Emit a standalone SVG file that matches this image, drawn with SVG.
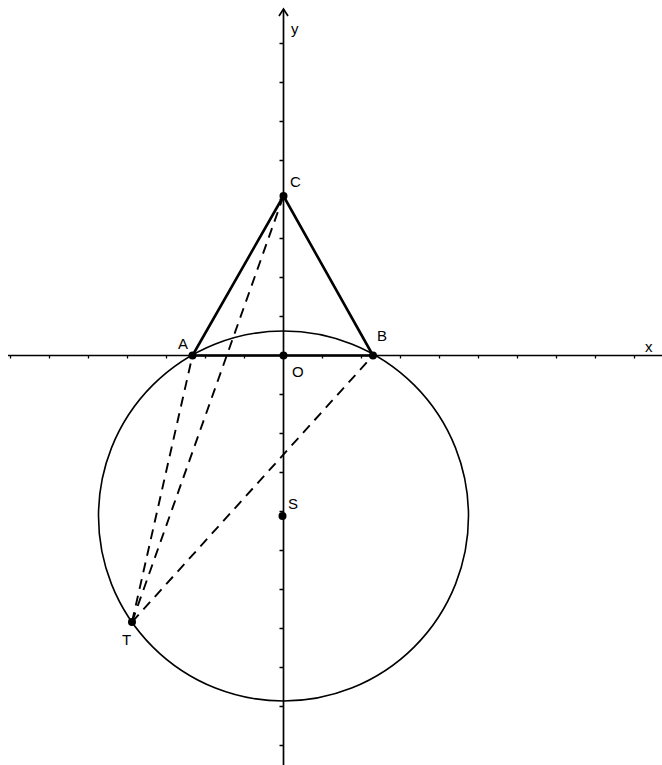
<svg xmlns="http://www.w3.org/2000/svg" width="662" height="765" viewBox="0 0 662 765">
<defs>
<style>
.axis{stroke:#000;stroke-width:1.7;fill:none}
.tick{stroke:#000;stroke-width:1.3}
.solid{stroke:#000;stroke-width:2.6;fill:none;stroke-linecap:round}
.circ{stroke:#000;stroke-width:1.6;fill:none}
.dash{stroke:#000;stroke-width:1.9;fill:none;stroke-dasharray:10 7}
.pt{fill:#000}
text{font-family:"Liberation Sans",Arial,sans-serif;font-size:15px;fill:#000}
</style>
</defs>
<rect width="662" height="765" fill="#fff"/>
<g id="axes">
<line class="axis" x1="8" y1="355.5" x2="662" y2="355.5"/>
<line class="axis" x1="283.5" y1="9" x2="283.5" y2="765"/>
<polyline class="axis" points="279,16 283.5,9 288,16"/>
<g id="xticks">
<path class="tick" d="M10.5,355.5v3M49.5,355.5v3M88.5,355.5v3M127.5,355.5v3M166.5,355.5v3M205.5,355.5v3M244.5,355.5v3M322.5,355.5v3M361.5,355.5v3M400.5,355.5v3M439.5,355.5v3M478.5,355.5v3M517.5,355.5v3M556.5,355.5v3M595.5,355.5v3M634.5,355.5v3"/>
</g>
<g id="yticks">
<path class="tick" d="M283.5,43.5h-4M283.5,82.5h-4M283.5,121.5h-4M283.5,160.5h-4M283.5,199.5h-4M283.5,238.5h-4M283.5,277.5h-4M283.5,316.5h-4M283.5,394.5h-4M283.5,433.5h-4M283.5,472.5h-4M283.5,511.5h-4M283.5,550.5h-4M283.5,589.5h-4M283.5,628.5h-4M283.5,667.5h-4M283.5,706.5h-4M283.5,745.5h-4"/>
</g>
<text x="645" y="352">x</text>
<text x="291" y="34">y</text>
</g>
<g id="circle">
<circle class="circ" cx="283.5" cy="516" r="185"/>
</g>
<g id="connectors">
<line class="solid" x1="283.5" y1="196" x2="192.5" y2="355.5"/>
<line class="solid" x1="283.5" y1="196" x2="373" y2="355.5"/>
<line class="solid" x1="192.5" y1="355.5" x2="373" y2="355.5"/>
<line class="dash" x1="132" y1="622" x2="192.5" y2="355.5"/>
<line class="dash" x1="132" y1="622" x2="283.5" y2="196"/>
<line class="dash" x1="132" y1="622" x2="373" y2="355.5"/>
</g>
<g id="C"><circle class="pt" cx="283.5" cy="196" r="4"/><text x="290" y="187">C</text></g>
<g id="A"><circle class="pt" cx="192.5" cy="355.5" r="4"/><text x="178" y="349">A</text></g>
<g id="B"><circle class="pt" cx="373" cy="355.5" r="4"/><text x="377" y="341">B</text></g>
<g id="O"><circle class="pt" cx="283.5" cy="355.5" r="4"/><text x="292" y="377">O</text></g>
<g id="S"><circle class="pt" cx="282.5" cy="516" r="4"/><text x="288" y="509">S</text></g>
<g id="T"><circle class="pt" cx="132" cy="622" r="4"/><text x="122" y="645">T</text></g>
</svg>
